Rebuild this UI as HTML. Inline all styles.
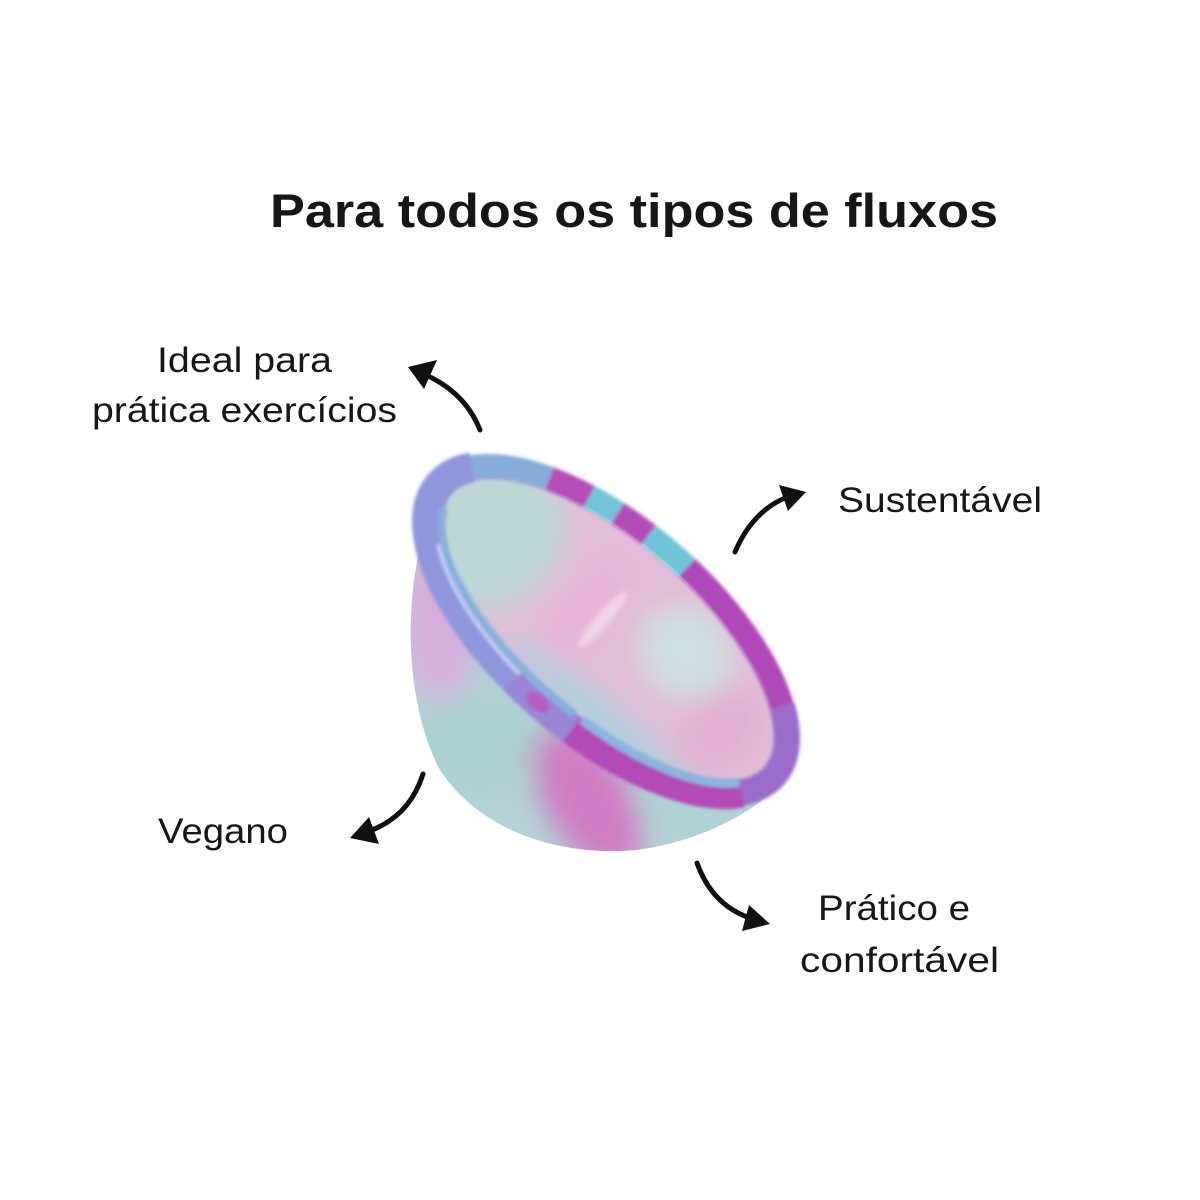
<!DOCTYPE html>
<html>
<head>
<meta charset="utf-8">
<style>
  html,body{margin:0;padding:0;background:#ffffff;}
  svg{display:block;}
  text{font-family:"Liberation Sans", Arial, sans-serif;fill:#161616;}
</style>
</head>
<body>
<svg width="1200" height="1200" viewBox="0 0 1200 1200" xmlns="http://www.w3.org/2000/svg">
  <defs>
    <filter id="b" x="-100%" y="-100%" width="300%" height="300%"><feGaussianBlur stdDeviation="14"/></filter>
    <filter id="b2" x="-50%" y="-50%" width="200%" height="200%"><feGaussianBlur stdDeviation="2.5"/></filter>
    <filter id="b3" x="-20%" y="-20%" width="140%" height="140%"><feGaussianBlur stdDeviation="1.5"/></filter>
    <clipPath id="body"><path d="M440,492 C404,560 398,690 440,770 C484,836 566,856 636,850 C700,842 754,812 780,784 Z"/></clipPath>
    <clipPath id="op"><ellipse cx="0" cy="0" rx="210" ry="88"/></clipPath>
  </defs>

  <rect width="1200" height="1200" fill="#ffffff"/>

  <!-- Title -->
  <text x="270" y="227" font-size="47" font-weight="bold" textLength="728" lengthAdjust="spacingAndGlyphs">Para todos os tipos de fluxos</text>

  <!-- Labels -->
  <text x="157" y="372" font-size="35" textLength="175" lengthAdjust="spacingAndGlyphs">Ideal para</text>
  <text x="92" y="422" font-size="35" textLength="305" lengthAdjust="spacingAndGlyphs">prática exercícios</text>
  <text x="838" y="512" font-size="35" textLength="204" lengthAdjust="spacingAndGlyphs">Sustentável</text>
  <text x="158" y="843" font-size="35" textLength="130" lengthAdjust="spacingAndGlyphs">Vegano</text>
  <text x="818" y="920" font-size="35" textLength="152" lengthAdjust="spacingAndGlyphs">Prático e</text>
  <text x="800" y="972" font-size="35" textLength="199" lengthAdjust="spacingAndGlyphs">confortável</text>

  <!-- Arrows -->
  <g fill="none" stroke="#111" stroke-width="5" stroke-linecap="round">
    <path d="M480,430 Q466,394 428,376"/>
    <path d="M735,552 Q752,512 785,498"/>
    <path d="M423,774 Q410,815 372,830"/>
    <path d="M697,863 Q712,905 750,918"/>
  </g>
  <g fill="#111">
    <polygon points="408,367 437,360 424,389"/>
    <polygon points="806,492 779,485 788,511"/>
    <polygon points="350,838 369,817 379,844"/>
    <polygon points="770,924 749,905 742,931"/>
  </g>

  <!-- Cup body -->
  <g clip-path="url(#body)">
    <rect x="380" y="460" width="420" height="420" fill="#b3d2d6"/>
    <g filter="url(#b)">
      <ellipse cx="440" cy="620" rx="40" ry="80" fill="#d6aedc"/>
      <ellipse cx="480" cy="745" rx="65" ry="45" fill="#a9cfd0"/>
      <ellipse cx="588" cy="800" rx="42" ry="80" transform="rotate(-30 588 800)" fill="#cf7cc2"/>
      <ellipse cx="690" cy="805" rx="55" ry="30" fill="#aed2d4"/>
    </g>
  </g>

  <!-- Rim and opening, local rotated coordinates -->
  <g transform="translate(607,630) rotate(41)">
    <!-- opening -->
    <g clip-path="url(#op)">
      <rect x="-230" y="-110" width="460" height="220" fill="#e2bcd8"/>
      <g filter="url(#b)">
        <ellipse cx="-150" cy="5" rx="70" ry="80" fill="#bcd8d6"/>
        <ellipse cx="75" cy="-35" rx="50" ry="45" fill="#cfe0e0"/>
        <ellipse cx="60" cy="72" rx="130" ry="18" fill="#aad2dc"/>
        <ellipse cx="-30" cy="0" rx="30" ry="60" fill="#e6b4d8"/>
        <ellipse cx="150" cy="0" rx="35" ry="45" fill="#e0aed2"/>
      </g>
      <ellipse cx="-10" cy="-5" rx="7" ry="36" fill="#f0d4ea" filter="url(#b2)"/>
    </g>

    <!-- rim -->
    <g filter="url(#b3)" fill="none">
      <ellipse cx="0" cy="0" rx="220" ry="100" stroke="#9a98dc" stroke-width="24"/>
      <!-- front wider band -->
      <path d="M208.6,34.2 A222,100 0 0 1 -208.6,-34.2" stroke="#9096dc" stroke-width="30"/>
      <!-- segments -->
      <path d="M181.9,-57.4 A222,100 0 0 1 208.6,34.2" stroke="#9c6ccb" stroke-width="26"/>
      <path d="M208.6,34.2 A222,100 0 0 1 38.5,98.5" stroke="#b34cb6" stroke-width="30"/>
      <path d="M38.5,98.5 A222,100 0 0 1 -38.5,98.5" stroke="#9a86d4" stroke-width="30"/>
      <path d="M-38.5,98.5 A222,100 0 0 1 -208.6,-34.2" stroke="#8f96dc" stroke-width="30"/>
      <path d="M-208.6,-34.2 A222,100 0 0 1 -142.7,-76.6" stroke="#88acd8" stroke-width="24"/>
      <path d="M-142.7,-76.6 A222,100 0 0 1 -100.8,-89.1" stroke="#b44fb8" stroke-width="24"/>
      <path d="M-100.8,-89.1 A222,100 0 0 1 -68.6,-95.1" stroke="#72c4d6" stroke-width="24"/>
      <path d="M-68.6,-95.1 A222,100 0 0 1 -30.9,-99" stroke="#b24db8" stroke-width="24"/>
      <path d="M-30.9,-99 A222,100 0 0 1 19.4,-99.6" stroke="#70c4d8" stroke-width="24"/>
      <path d="M19.4,-99.6 A222,100 0 0 1 181.9,-57.4" stroke="#b04ab8" stroke-width="24"/>
      <!-- inner bands on front -->
      <path d="M200,28 A206,85 0 0 1 40,84" stroke="#8ab6de" stroke-width="9"/>
      <path d="M30,85 A206,85 0 0 1 -202.9,14.8" stroke="#88b0da" stroke-width="8"/>
      <path d="M-36.8,90.6 A212,92 0 0 1 -183.6,46" stroke="#c4cef6" stroke-width="4"/>
    </g>
    <ellipse cx="-5" cy="100" rx="13" ry="8" fill="#b85cc0" filter="url(#b3)"/>
  </g>
</svg>
</body>
</html>
